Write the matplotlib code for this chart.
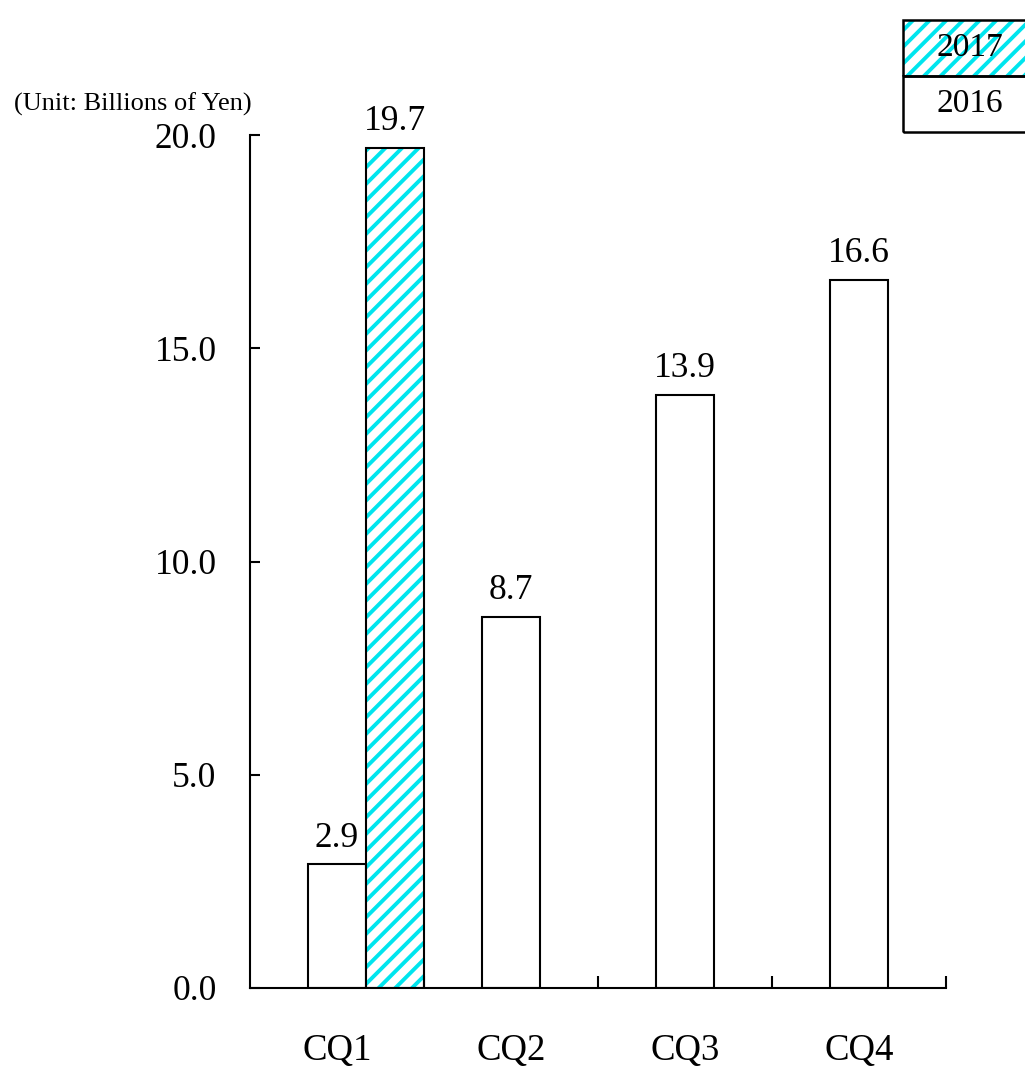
import matplotlib
matplotlib.use("Agg")
import matplotlib.pyplot as plt
from matplotlib.patches import Rectangle
import numpy as np

quarters = ["CQ1", "CQ2", "CQ3", "CQ4"]
values_2016 = [2.9, 8.7, 13.9, 16.6]
values_2017 = [19.7]          # only CQ1 reported so far
years = ["2017", "2016"]
unit_label = "(Unit: Billions of Yen)"
yticks = [0.0, 5.0, 10.0, 15.0, 20.0]

CYAN = '#00e5ee'
plt.rcParams['font.family'] = ['Liberation Serif', 'DejaVu Serif']
plt.rcParams['hatch.linewidth'] = 2.8

W, H = 1025, 1067
fig = plt.figure(figsize=(W / 100, H / 100), dpi=100)
ax = fig.add_axes([250 / W, 79 / H, 696 / W, 853 / H])

x = np.arange(len(quarters))
bw = 1 / 3

# 2016 bars sit on the category centre, 2017 bars to their right
b16 = ax.bar(x, values_2016, width=bw, color='white', edgecolor='black', linewidth=1.5)
x17 = x[:len(values_2017)] + bw
# hatch colour follows edgecolor, so draw cyan hatch first, then the black outline
ax.bar(x17, values_2017, width=bw, color='white', edgecolor=CYAN, linewidth=0, hatch='//')
b17 = ax.bar(x17, values_2017, width=bw, fill=False, edgecolor='black', linewidth=1.5)

for bars, vals in ((b16, values_2016), (b17, values_2017)):
    for rect, v in zip(bars, vals):
        ax.annotate(f"{v:.1f}", (rect.get_x() + rect.get_width() / 2, v),
                    xytext=(0, 7), textcoords='offset points',
                    ha='center', va='bottom', fontsize=25.5)

ax.set_xlim(-0.5, 3.5)
ax.set_ylim(0, 20)
ax.set_yticks(yticks)
ax.set_yticklabels([f"{t:.1f}" for t in yticks])
ax.set_xticks(x)
ax.set_xticklabels(quarters)
ax.set_xticks(x + 0.5, minor=True)

ax.tick_params(axis='y', direction='in', length=7, width=1.5, labelsize=25.5, pad=24)
ax.tick_params(axis='x', which='major', length=0, labelsize=26.5, pad=33)
ax.tick_params(axis='x', which='minor', direction='in', length=9, width=1.5)

for s in ('top', 'right'):
    ax.spines[s].set_visible(False)
for s in ('left', 'bottom'):
    ax.spines[s].set_linewidth(1.5)

fig.text(14 / W, 1 - 104 / H, unit_label, fontsize=19, ha='left', va='center')

# legend drawn as a little two-cell table in the top right corner
def px(x0, y0, w, h):
    return (x0 / W, 1 - (y0 + h) / H), w / W, h / H

for i, yr in enumerate(years):
    xy, w, h = px(903, 20 + i * 56, 140, 56)
    if yr == "2017":
        fig.patches.append(Rectangle(xy, w, h, transform=fig.transFigure,
                                     facecolor='white', edgecolor=CYAN, linewidth=0,
                                     hatch='//'))
    fig.patches.append(Rectangle(xy, w, h, transform=fig.transFigure,
                                 fill=False, edgecolor='black', linewidth=1.8))
    fig.text(970 / W, 1 - (48 + i * 56) / H, yr, fontsize=24, ha='center', va='center')

fig.savefig("out.png", dpi=100)
